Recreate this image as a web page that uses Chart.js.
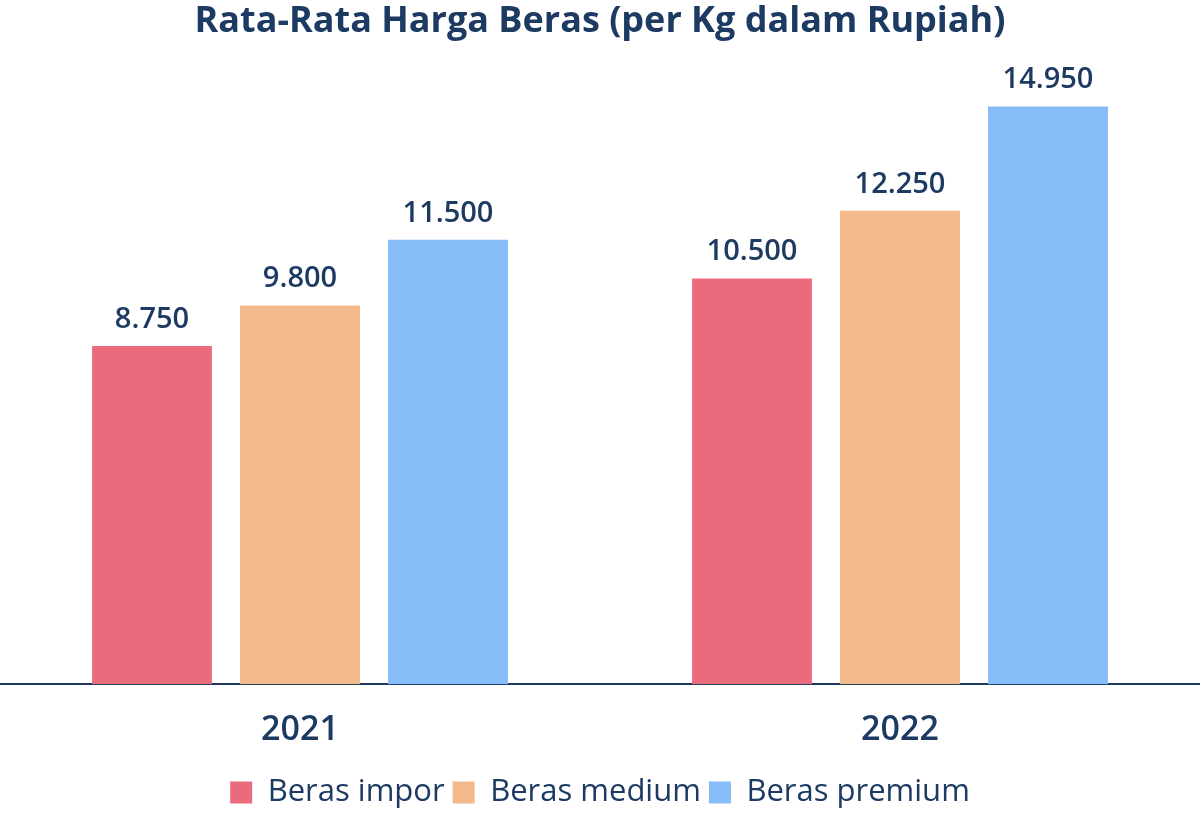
<!DOCTYPE html>
<html>
<head>
<meta charset="utf-8">
<script src="https://cdn.jsdelivr.net/npm/chart.js@4"></script>
<style>
  html, body { margin: 0; padding: 0; background: #fff; }
  #wrap { width: 1200px; height: 818px; }
</style>
</head>
<body>
<div id="wrap"><canvas id="chart"></canvas></div>
<script>
const years = ["2021", "2022"];
const seriesNames = ["Beras impor", "Beras medium", "Beras premium"];
const berasImpor = [8750, 10500];
const berasMedium = [9800, 12250];
const berasPremium = [11500, 14950];
const colors = ["#ea6c7c", "#f3b98b", "#86bcf7"];
const navy = "#1d3a63";

const fmt = v => v.toLocaleString("id-ID");

// value labels above each bar
const valueLabels = {
  id: "valueLabels",
  afterDatasetsDraw(chart) {
    const ctx = chart.ctx;
    ctx.save();
    ctx.font = "600 29px 'Open Sans'";
    ctx.fillStyle = navy;
    ctx.textAlign = "center";
    ctx.textBaseline = "bottom";
    chart.data.datasets.forEach((ds, i) => {
      chart.getDatasetMeta(i).data.forEach((bar, j) => {
        ctx.fillText(fmt(ds.data[j]), bar.x, bar.y - 12);
      });
    });
    ctx.restore();
  }
};

new Chart(document.getElementById("chart"), {
  type: "bar",
  data: {
    labels: years,
    datasets: [berasImpor, berasMedium, berasPremium].map((d, i) => ({
      label: seriesNames[i],
      data: d,
      backgroundColor: colors[i],
      categoryPercentage: 0.74,
      barPercentage: 0.81,
    })),
  },
  options: {
    responsive: true,
    maintainAspectRatio: false,
    animation: false,
    layout: { padding: { left: 0, right: 0, top: 0, bottom: 0 } },
    plugins: {
      title: {
        display: true,
        text: "Rata-Rata Harga Beras (per Kg dalam Rupiah)",
        color: navy,
        font: { family: "'Open Sans'", size: 36, weight: "bold" },
        padding: { top: 0, bottom: 8 },
      },
      legend: {
        position: "bottom",
        labels: {
          color: navy,
          font: { family: "'Open Sans'", size: 31, weight: "500" },
          boxWidth: 22,
          boxHeight: 22,
          padding: 8,
        },
      },
      tooltip: { enabled: false },
    },
    scales: {
      x: {
        grid: { display: false },
        border: { display: true, color: navy, width: 2 },
        ticks: {
          color: navy,
          font: { family: "'Open Sans'", size: 34, weight: "600" },
          padding: 18,
        },
      },
      y: {
        display: false,
        beginAtZero: true,
        max: 16380,
      },
    },
  },
  plugins: [valueLabels],
});
</script>
</body>
</html>
